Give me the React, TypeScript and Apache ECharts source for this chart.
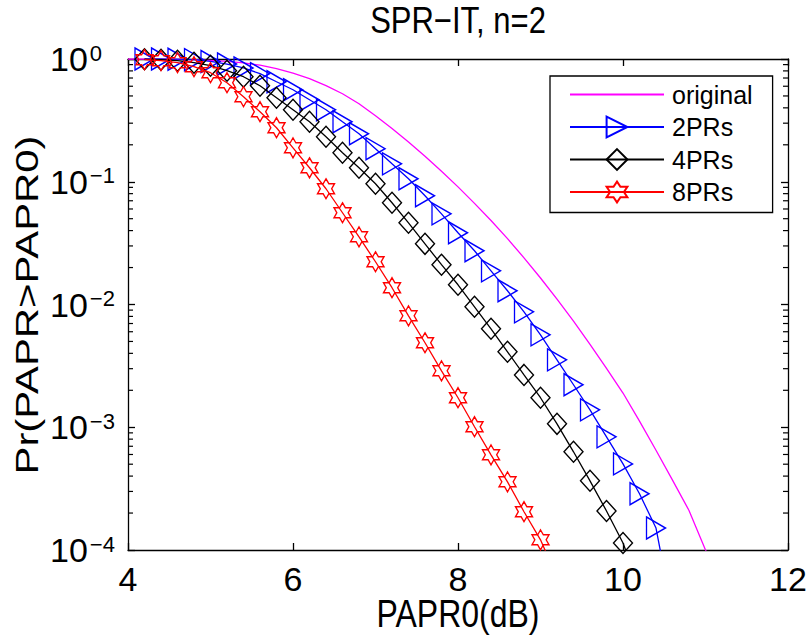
import React, { useEffect, useRef } from "react";
import * as echarts from "echarts";

const FONT = "'Liberation Sans', Arial, Helvetica, sans-serif";

const chartTitle = "SPR\u2212IT, n=2";
const xAxisTitle = "PAPR0(dB)";
const yAxisTitle = "Pr(PAPR>PAPR0)";
const seriesNames = ["original", "2PRs", "4PRs", "8PRs"];
const seriesColors = ["#ff00ff", "#0000ff", "#000000", "#ff0000"];

// original (no markers)
const xOriginal = [4.0, 4.2, 4.4, 4.6, 4.8, 5.0, 5.2, 5.4, 5.6, 5.8, 6.0, 6.2, 6.4, 6.6, 6.8, 7.0, 7.2, 7.4, 7.6, 7.8, 8.0, 8.2, 8.4, 8.6, 8.8, 9.0, 9.2, 9.4, 9.6, 9.8, 10.0, 10.2, 10.4, 10.6, 10.8, 11.0, 11.2];
const yOriginal = [1.0, 1.0, 0.998, 0.994, 0.987, 0.976, 0.958, 0.929, 0.89, 0.834, 0.766, 0.691, 0.606, 0.521, 0.432, 0.345, 0.2716, 0.2109, 0.1614, 0.1219, 0.0908, 0.0667, 0.0483, 0.0344, 0.0240, 0.01644, 0.01107, 0.00731, 0.00474, 0.00302, 0.00190, 0.001122, 0.000649, 0.000371, 0.000210, 0.0001, 0.0000557];

// 2PRs
const x2PRs = [4.2, 4.4, 4.6, 4.8, 5.0, 5.2, 5.4, 5.6, 5.8, 6.0, 6.2, 6.4, 6.6, 6.8, 7.0, 7.2, 7.4, 7.6, 7.8, 8.0, 8.2, 8.4, 8.6, 8.8, 9.0, 9.2, 9.4, 9.6, 9.8, 10.0, 10.2, 10.4, 10.6];
const y2PRs = [1.0, 1.0, 0.996, 0.987, 0.955, 0.91, 0.845, 0.76, 0.653, 0.562, 0.466, 0.386, 0.308, 0.246, 0.186, 0.14, 0.1057, 0.0769, 0.0548, 0.0384, 0.0274, 0.0188, 0.01294, 0.00872, 0.00566, 0.00354, 0.00222, 0.001387, 0.000835, 0.000503, 0.000287, 0.000151, 0.00003];

// 4PRs
const x4PRs = [4.2, 4.4, 4.6, 4.8, 5.0, 5.2, 5.4, 5.6, 5.8, 6.0, 6.2, 6.4, 6.6, 6.8, 7.0, 7.2, 7.4, 7.6, 7.8, 8.0, 8.2, 8.4, 8.6, 8.8, 9.0, 9.2, 9.4, 9.6, 9.8, 10.0, 10.2];
const y4PRs = [0.996, 0.987, 0.969, 0.933, 0.882, 0.803, 0.717, 0.606, 0.484, 0.386, 0.308, 0.2327, 0.1723, 0.13, 0.0963, 0.0674, 0.0463, 0.0312, 0.0211, 0.01448, 0.00958, 0.00634, 0.00412, 0.00267, 0.00174, 0.001066, 0.000631, 0.000366, 0.000208, 0.000114, 0.00005];

// 8PRs
const x8PRs = [4.2, 4.4, 4.6, 4.8, 5.0, 5.2, 5.4, 5.6, 5.8, 6.0, 6.2, 6.4, 6.6, 6.8, 7.0, 7.2, 7.4, 7.6, 7.8, 8.0, 8.2, 8.4, 8.6, 8.8, 9.0, 9.2];
const y8PRs = [0.987, 0.969, 0.933, 0.865, 0.773, 0.641, 0.493, 0.372, 0.2755, 0.189, 0.13, 0.0877, 0.0559, 0.0356, 0.0223, 0.0137, 0.00809, 0.00488, 0.00288, 0.00174, 0.00101, 0.000596, 0.000359, 0.000205, 0.000121, 0.00006];

const xTickValues = [4, 6, 8, 10, 12];
const minorTickValues = [
  0.0002, 0.0003, 0.0004, 0.0005, 0.0006, 0.0007, 0.0008, 0.0009,
  0.002, 0.003, 0.004, 0.005, 0.006, 0.007, 0.008, 0.009,
  0.02, 0.03, 0.04, 0.05, 0.06, 0.07, 0.08, 0.09,
  0.2, 0.3, 0.4, 0.5, 0.6, 0.7, 0.8, 0.9,
];

const TRI_RIGHT = "path://M0,0 L17,10 L0,20 Z";
const DIAMOND = "path://M10,0 L20,10 L10,20 L0,10 Z";
const HEXAGRAM =
  "path://M10,0 L12.887,5 L18.66,5 L15.774,10 L18.66,15 L12.887,15 L10,20 L7.113,15 L1.34,15 L4.226,10 L1.34,5 L7.113,5 Z";

const pairs = (xs: number[], ys: number[]) => xs.map((x, i) => [x, ys[i]]);

export default function App() {
  const ref = useRef<HTMLDivElement>(null);

  useEffect(() => {
    if (!ref.current) return;
    const chart = echarts.init(ref.current, undefined, { renderer: "svg" });

    const axisLineStyle = { color: "#000", width: 1.3 };
    const markerSeries = (
      idx: number,
      xs: number[],
      ys: number[],
      symbol: string,
      size: number[]
    ) => ({
      type: "line",
      name: seriesNames[idx],
      data: pairs(xs, ys),
      color: seriesColors[idx],
      symbol,
      symbolSize: size,
      showSymbol: true,
      showAllSymbol: true,
      clip: true,
      lineStyle: { color: seriesColors[idx], width: 1.3 },
      itemStyle: {
        color: "rgba(255,255,255,0)",
        borderColor: seriesColors[idx],
        borderWidth: 1.4,
      },
      emphasis: { disabled: true },
      z: 3 + idx,
    });

    const option: any = {
      animation: false,
      backgroundColor: "#ffffff",
      graphic: [
        {
          type: "text",
          x: 458,
          y: 20,
          scaleY: 1.2,
          style: {
            text: chartTitle,
            fontFamily: FONT,
            fontSize: 31,
            fill: "#000",
            align: "center",
            verticalAlign: "middle",
          },
        },
        {
          type: "text",
          x: 458,
          y: 613,
          scaleY: 1.2,
          style: {
            text: xAxisTitle,
            fontFamily: FONT,
            fontSize: 32,
            fill: "#000",
            align: "center",
            verticalAlign: "middle",
          },
        },
        {
          type: "text",
          x: 27,
          y: 305,
          rotation: Math.PI / 2,
          scaleX: 1.35,
          style: {
            text: yAxisTitle,
            fontFamily: FONT,
            fontSize: 31,
            fill: "#000",
            align: "center",
            verticalAlign: "middle",
          },
        },
      ],
      grid: { left: 128, right: 18, top: 59, bottom: 88, outerBoundsMode: "none" },
      legend: {
        data: [
          { name: seriesNames[0], itemStyle: { opacity: 0, color: "rgba(0,0,0,0)", borderWidth: 0 } },
          seriesNames[1],
          seriesNames[2],
          seriesNames[3],
        ],
        orient: "vertical",
        left: 550,
        top: 76,
        itemWidth: 94,
        itemHeight: 26,
        itemGap: 7.5,
        padding: [6, 20, 8, 19],
        borderColor: "#000",
        borderWidth: 1.3,
        backgroundColor: "#fff",
        selectedMode: false,
        textStyle: { fontFamily: FONT, fontSize: 25, color: "#000", padding: [0, 0, 0, 3] },
      },
      xAxis: [
        {
          type: "value",
          min: 4,
          max: 12,
          interval: 2,
          position: "bottom",
          axisLine: { show: true, onZero: false, lineStyle: axisLineStyle },
          axisTick: { show: true, inside: true, length: 7, lineStyle: axisLineStyle },
          axisLabel: {
            fontFamily: FONT,
            fontSize: 34,
            color: "#000",
            margin: 12,
            formatter: (v: number) => (xTickValues.indexOf(v) >= 0 ? String(v) : ""),
          },
          splitLine: { show: false },
        },
        {
          type: "value",
          min: 4,
          max: 12,
          interval: 2,
          position: "top",
          axisLine: { show: true, onZero: false, lineStyle: axisLineStyle },
          axisTick: { show: true, inside: true, length: 7, lineStyle: axisLineStyle },
          axisLabel: { show: false },
          splitLine: { show: false },
        },
      ],
      yAxis: [
        {
          type: "log",
          logBase: 10,
          min: 0.0001,
          max: 1,
          splitNumber: 4,
          position: "left",
          axisLine: { show: true, onZero: false, lineStyle: axisLineStyle },
          axisTick: { show: true, inside: true, length: 7, lineStyle: axisLineStyle },
          axisLabel: {
            margin: 78,
            align: "left",
            formatter: (v: number) => {
              const e = Math.round(Math.log10(v));
              const es = e < 0 ? "\u2212" + String(-e) : String(e);
              return "{b|10}{e|" + es + "}";
            },
            rich: {
              b: { fontFamily: FONT, fontSize: 34, color: "#000", verticalAlign: "bottom", lineHeight: 34 },
              e: { fontFamily: FONT, fontSize: 22, color: "#000", verticalAlign: "top", lineHeight: 22, padding: [0, 0, 18, 2] },
            },
          },
          splitLine: { show: false },
          minorTick: { show: false },
        },
        {
          type: "log",
          logBase: 10,
          min: 0.0001,
          max: 1,
          splitNumber: 4,
          position: "right",
          axisLine: { show: true, onZero: false, lineStyle: axisLineStyle },
          axisTick: { show: true, inside: true, length: 7, lineStyle: axisLineStyle },
          axisLabel: { show: false },
          splitLine: { show: false },
        },
      ],
      series: [
        {
          type: "line",
          name: seriesNames[0],
          data: pairs(xOriginal, yOriginal),
          color: seriesColors[0],
          symbol: "none",
          showSymbol: false,
          clip: true,
          lineStyle: { color: seriesColors[0], width: 1.3 },
          emphasis: { disabled: true },
          z: 2,
        },
        markerSeries(1, x2PRs, y2PRs, TRI_RIGHT, [19, 22]),
        markerSeries(2, x4PRs, y4PRs, DIAMOND, [19, 21]),
        markerSeries(3, x8PRs, y8PRs, HEXAGRAM, [17, 20]),
        {
          type: "custom",
          name: "minorTicks",
          silent: true,
          clip: false,
          z: 10,
          data: minorTickValues.map((v) => [4, v]),
          renderItem: (params: any, api: any) => {
            const y = api.coord([4, api.value(1)])[1];
            const cs = params.coordSys;
            const xl = cs.x;
            const xr = cs.x + cs.width;
            return {
              type: "group",
              children: [
                { type: "line", shape: { x1: xl, y1: y, x2: xl + 5, y2: y }, style: { stroke: "#000", lineWidth: 1.2 } },
                { type: "line", shape: { x1: xr - 5, y1: y, x2: xr, y2: y }, style: { stroke: "#000", lineWidth: 1.2 } },
              ],
            };
          },
        },
      ],
    };

    chart.setOption(option);
    return () => chart.dispose();
  }, []);

  return (
    <div
      ref={ref}
      style={{ position: "fixed", left: 0, top: 0, width: 806, height: 638, background: "#fff" }}
    />
  );
}
